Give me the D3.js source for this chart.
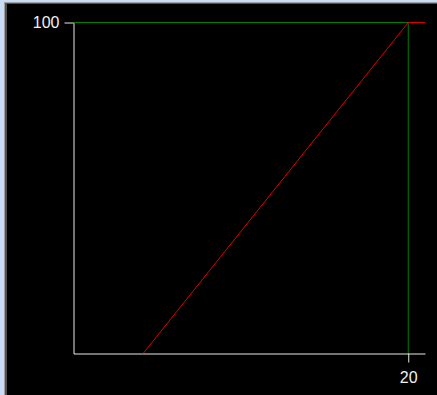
<!DOCTYPE html>
<html>
<head>
<meta charset="utf-8">
<script src="https://cdn.jsdelivr.net/npm/d3@7"></script>
<style>
  html, body { margin: 0; padding: 0; background: #c8dcf8; }
  svg { display: block; }
</style>
</head>
<body>
<div id="chart"></div>
<script>
// values
const xTicks = [20];
const yTicks = [100];
const xDomain = [0, 21];
const yDomain = [0, 100];
const redLine = [[4.16, 0], [20, 100], [21, 100]];
const greenLines = [
  [[0, 100], [20, 100]],
  [[20, 0], [20, 100]]
];

const width = 437;
const height = 395;

const svg = d3.select("#chart").append("svg")
  .attr("width", width)
  .attr("height", height);

// sunken window frame
svg.append("rect").attr("x", 0).attr("y", 0).attr("width", width).attr("height", height).attr("fill", "#c8dcf8");
svg.append("rect").attr("x", 4).attr("y", 2).attr("width", width).attr("height", height).attr("fill", "#a0a0a0");
svg.append("rect").attr("x", 5).attr("y", 3).attr("width", width).attr("height", height).attr("fill", "#505050");
svg.append("rect").attr("x", 7).attr("y", 4).attr("width", width).attr("height", height).attr("fill", "#000");

const scaleX = d3.scaleLinear().domain(xDomain).range([73.5, 425]);
const scaleY = d3.scaleLinear().domain(yDomain).range([353.5, 22.5]);

const line = d3.line().x(d => scaleX(d[0])).y(d => scaleY(d[1]));

svg.selectAll("path.green")
  .data(greenLines)
  .join("path")
  .attr("class", "green")
  .attr("d", line)
  .attr("fill", "none")
  .attr("stroke", "#008000")
  .attr("stroke-width", 1);

const xAxis = svg.append("g")
  .attr("transform", `translate(0, ${scaleY(0)})`)
  .call(d3.axisBottom(scaleX).tickValues(xTicks).tickSize(9).tickSizeOuter(0).tickPadding(9));

const yAxis = svg.append("g")
  .attr("transform", `translate(${scaleX(0)}, 0)`)
  .call(d3.axisLeft(scaleY).tickValues(yTicks).tickSize(9).tickSizeOuter(0).tickPadding(5));

for (const ax of [xAxis, yAxis]) {
  ax.selectAll("path, line").attr("stroke", "#e8e8e8").attr("stroke-width", 1);
  ax.selectAll("text")
    .attr("fill", "#f0f0f0")
    .style("font-family", "'Liberation Sans', Arial, sans-serif")
    .style("font-size", "16px");
}

svg.append("path")
  .datum(redLine)
  .attr("d", line)
  .attr("fill", "none")
  .attr("stroke", "#dd0000")
  .attr("stroke-width", 1);
</script>
</body>
</html>
